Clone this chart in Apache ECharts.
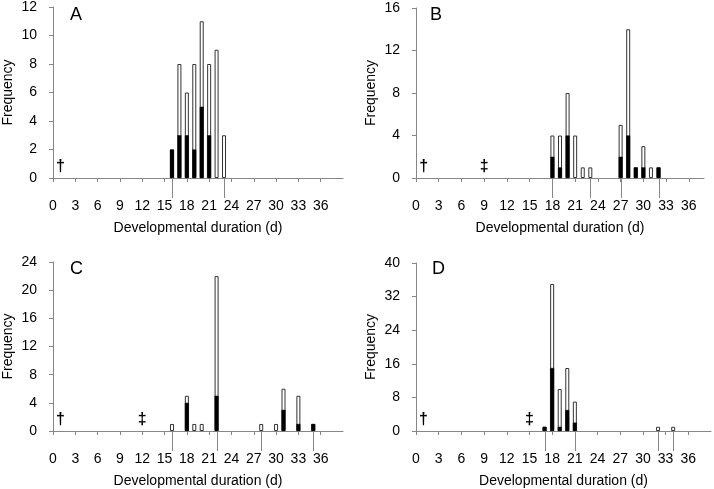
<!DOCTYPE html>
<html>
<head>
<meta charset="utf-8">
<script src="https://cdn.jsdelivr.net/npm/echarts@6/dist/echarts.min.js"></script>
<style>
html,body{margin:0;padding:0;background:#fff;}
#chart{width:714px;height:489px;}
</style>
</head>
<body>
<div id="chart"></div>
<script>
// ---- Data ----
const xTickLabels = [0,3,6,9,12,15,18,21,24,27,30,33,36];

const A_days  = [16,17,18,19,20,21,22,23];
const A_black = [2,3,3,2,5,3,0,0];
const A_total = [2,8,6,8,11,8,9,3];
const A_ranges = [16,23];
const A_dagger = [1];
const A_ddagger = [];

const B_days  = [18,19,20,21,22,23,27,28,29,30,31,32];
const B_black = [2,1,4,0,0,0,2,4,1,1,0,1];
const B_total = [4,4,8,4,1,1,5,14,1,3,1,1];
const B_ranges = [18,23,27,32];
const B_dagger = [1];
const B_ddagger = [9];

const C_days  = [16,18,19,20,22,28,30,31,33,35];
const C_black = [0,4,0,0,5,0,0,3,1,1];
const C_total = [1,5,1,1,22,1,1,6,5,1];
const C_ranges = [16,22,28,35];
const C_dagger = [1];
const C_ddagger = [12];

const D_days  = [17,18,19,20,21,32,34];
const D_black = [1,15,1,5,2,0,0];
const D_total = [1,35,10,15,7,1,1];
const D_ranges = [17,21,32,34];
const D_dagger = [1];
const D_ddagger = [15];

const panels = [
  {label:'A', days:A_days, black:A_black, total:A_total, ranges:A_ranges, dag:A_dagger, ddag:A_ddagger, ymax:12, yint:2, xmax:39,
   grid:{left:52, top:7, width:291, height:171}, title:{left:65, top:1}},
  {label:'B', days:B_days, black:B_black, total:B_total, ranges:B_ranges, dag:B_dagger, ddag:B_ddagger, ymax:16, yint:4, xmax:38,
   grid:{left:416, top:8, width:288, height:170}, title:{left:425, top:1}},
  {label:'C', days:C_days, black:C_black, total:C_total, ranges:C_ranges, dag:C_dagger, ddag:C_ddagger, ymax:24, yint:4, xmax:39,
   grid:{left:52, top:262, width:291, height:172}, title:{left:65, top:255}},
  {label:'D', days:D_days, black:D_black, total:D_total, ranges:D_ranges, dag:D_dagger, ddag:D_ddagger, ymax:40, yint:8, xmax:39,
   grid:{left:416, top:263, width:295, height:171}, title:{left:427, top:255}}
];

const FONT = 'Liberation Sans, Arial, sans-serif';
const AXIS_COLOR = '#868686';

const grids = [], xAxes = [], yAxes = [], series = [], titles = [];

panels.forEach((p, i) => {
  grids.push(Object.assign({containLabel:false}, p.grid));
  titles.push({text:p.label, left:p.title.left, top:p.title.top,
    textStyle:{fontFamily:FONT, fontSize:18, fontWeight:'normal', color:'#000'}});
  xAxes.push({
    gridIndex:i, type:'value', min:0, max:p.xmax, interval:3,
    name:'Developmental duration (d)', nameLocation:'middle', nameGap:43,
    nameTextStyle:{fontFamily:FONT, fontSize:14, color:'#000'},
    axisLine:{show:true, lineStyle:{color:AXIS_COLOR, width:1}},
    axisTick:{show:true, inside:false, length:4, lineStyle:{color:AXIS_COLOR}},
    axisLabel:{show:true, margin:21, fontFamily:FONT, fontSize:14, color:'#000', showMaxLabel:false,
      formatter: v => xTickLabels.indexOf(v) >= 0 ? String(v) : ''},
    splitLine:{show:false}
  });
  yAxes.push({
    gridIndex:i, type:'value', min:0, max:p.ymax, interval:p.yint,
    name:'Frequency', nameLocation:'middle', nameGap:38, nameRotate:90,
    nameTextStyle:{fontFamily:FONT, fontSize:14, color:'#000'},
    axisLine:{show:true, lineStyle:{color:AXIS_COLOR, width:1}},
    axisTick:{show:true, inside:false, length:4, lineStyle:{color:AXIS_COLOR}},
    axisLabel:{margin:16, fontFamily:FONT, fontSize:14, color:'#000'},
    splitLine:{show:false}
  });
  // white (total) bars
  series.push({
    type:'bar', xAxisIndex:i, yAxisIndex:i, barWidth:4, barGap:'-100%',
    data:p.days.map((d, k) => [d, p.total[k]]),
    itemStyle:{color:'#ffffff', borderColor:'#333333', borderWidth:1},
    silent:true, animation:false, z:2
  });
  // black bars
  series.push({
    type:'bar', xAxisIndex:i, yAxisIndex:i, barWidth:4, barGap:'-100%',
    data:p.days.map((d, k) => [d, p.black[k] > 0 ? p.black[k] : '-']),
    itemStyle:{color:'#000000', borderColor:'#000000', borderWidth:0.5},
    silent:true, animation:false, z:3
  });
  // range marker lines below the axis
  series.push({
    type:'custom', xAxisIndex:i, yAxisIndex:i, clip:false, silent:true, animation:false, z:4,
    data:p.ranges.map(r => [r, 0]),
    renderItem:(params, api) => {
      const pt = api.coord([api.value(0), 0]);
      const x = Math.round(pt[0]) + 0.5;
      return {type:'line', shape:{x1:x, y1:pt[1], x2:x, y2:pt[1] + 20},
        style:{stroke:AXIS_COLOR, lineWidth:1}};
    }
  });
  // daggers
  const symbols = p.dag.map(v => [v, 0, '\u2020']).concat(p.ddag.map(v => [v, 0, '\u2021']));
  series.push({
    type:'custom', xAxisIndex:i, yAxisIndex:i, clip:false, silent:true, animation:false, z:5,
    data:symbols,
    dimensions:['x','y',{name:'s', type:'ordinal'}],
    renderItem:(params, api) => {
      const pt = api.coord([api.value(0), 0]);
      return {type:'text', x:pt[0], y:pt[1] - 11,
        style:{text:symbols[params.dataIndex][2], fill:'#000', align:'center', verticalAlign:'middle',
          font:'bold 16px ' + FONT}};
    }
  });
});

const chart = echarts.init(document.getElementById('chart'), null, {renderer:'canvas'});
chart.setOption({
  animation:false,
  backgroundColor:'#ffffff',
  title:titles,
  grid:grids,
  xAxis:xAxes,
  yAxis:yAxes,
  series:series
});
</script>
</body>
</html>
